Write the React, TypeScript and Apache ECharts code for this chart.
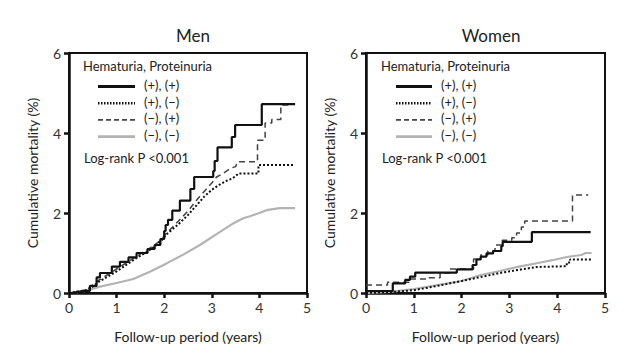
import React, { useEffect, useRef } from "react";
import * as echarts from "echarts";

// Data: [years, cumulative mortality %]
const menPosPos: number[][] = [
  [0, 0], [0.15, 0.03], [0.3, 0.05], [0.44, 0.18], [0.58, 0.39], [0.65, 0.5], [0.9, 0.66],
  [1.07, 0.78], [1.25, 0.89], [1.42, 1.0], [1.65, 1.1], [1.8, 1.2], [1.92, 1.35], [2.0, 1.55],
  [2.03, 1.7], [2.08, 1.83], [2.17, 2.06], [2.33, 2.31], [2.55, 2.6], [2.63, 2.9], [3.03, 3.05],
  [3.06, 3.3], [3.12, 3.64], [3.42, 3.9], [3.49, 4.2], [4.05, 4.72], [4.75, 4.72],
];
const menPosNeg: number[][] = [
  [0, 0], [0.2, 0.04], [0.4, 0.08], [0.5, 0.16], [0.6, 0.26], [0.8, 0.4], [1.0, 0.54], [1.2, 0.7],
  [1.4, 0.86], [1.6, 1.0], [1.8, 1.16], [1.95, 1.32], [2.05, 1.47], [2.15, 1.57], [2.3, 1.72],
  [2.5, 1.95], [2.7, 2.22], [2.85, 2.42], [3.0, 2.58], [3.15, 2.7], [3.3, 2.8], [3.42, 2.86],
  [3.5, 2.92], [3.56, 2.99], [3.98, 2.99], [3.98, 3.2], [4.74, 3.2],
];
const menNegPos: number[][] = [
  [0, 0], [0.2, 0.03], [0.35, 0.08], [0.45, 0.15], [0.6, 0.3], [0.8, 0.45], [1.0, 0.6], [1.2, 0.75],
  [1.4, 0.9], [1.6, 1.05], [1.8, 1.2], [1.95, 1.35], [2.05, 1.5], [2.15, 1.62], [2.3, 1.8],
  [2.5, 2.05], [2.7, 2.35], [2.85, 2.55], [3.0, 2.75], [3.1, 2.9], [3.25, 3.0], [3.4, 3.12],
  [3.5, 3.16], [3.54, 3.28], [3.96, 3.28], [3.96, 3.82], [4.12, 3.82], [4.12, 4.25],
  [4.26, 4.25], [4.26, 4.34], [4.45, 4.34], [4.45, 4.7], [4.62, 4.7],
];
const menNegNeg: number[][] = [
  [0, 0], [0.3, 0.04], [0.65, 0.16], [1.0, 0.25], [1.35, 0.35], [1.7, 0.53], [2.05, 0.74],
  [2.4, 0.96], [2.75, 1.2], [3.1, 1.47], [3.45, 1.74], [3.66, 1.87], [3.8, 1.92], [4.0, 2.0],
  [4.15, 2.07], [4.43, 2.12], [4.75, 2.12],
];

const womenPosPos: number[][] = [
  [0, 0.05], [0.56, 0.24], [0.82, 0.33], [0.92, 0.41], [1.03, 0.51], [1.9, 0.59], [2.23, 0.7],
  [2.31, 0.84], [2.4, 0.91], [2.52, 0.99], [2.66, 1.05], [2.83, 1.17], [2.86, 1.28], [3.47, 1.52],
  [4.7, 1.52],
];
const womenPosNeg: number[][] = [
  [0, 0], [0.5, 0.02], [1.0, 0.07], [1.5, 0.18], [2.0, 0.3], [2.4, 0.4], [2.8, 0.5], [3.2, 0.58],
  [3.57, 0.65], [4.2, 0.67], [4.2, 0.76], [4.27, 0.76], [4.27, 0.84], [4.72, 0.84],
];
const womenNegPos: number[][] = [
  [0, 0.2], [0.45, 0.27], [0.9, 0.35], [1.3, 0.38], [1.55, 0.5], [1.75, 0.6], [2.25, 0.85],
  [2.4, 0.95], [2.55, 1.05], [2.7, 1.2], [2.85, 1.32], [3.05, 1.38], [3.15, 1.5], [3.25, 1.65],
  [3.32, 1.8], [4.32, 2.45], [4.65, 2.45],
];
const womenNegNeg: number[][] = [
  [0, 0], [0.5, 0.03], [1.0, 0.1], [1.5, 0.2], [2.0, 0.3], [2.4, 0.45], [2.8, 0.55], [3.2, 0.66],
  [3.6, 0.75], [3.9, 0.82], [4.2, 0.9], [4.5, 0.95], [4.6, 1.0], [4.72, 1.0],
];

const panelTitles = ["Men", "Women"];
const legendTitle = "Hematuria, Proteinuria";
const legendLabels = ["(+), (+)", "(+), (\u2212)", "(\u2212), (+)", "(\u2212), (\u2212)"];
const pText = "Log-rank P <0.001";
const xName = "Follow-up period (years)";
const yName = "Cumulative mortality (%)";

const FONT = "Lato";
const styles = [
  { color: "#111", width: 2.2, type: "solid" as any },
  { color: "#111", width: 2, type: [2, 2] as any },
  { color: "#444", width: 1.5, type: [6, 4] as any },
  { color: "#b3b3b3", width: 2.2, type: "solid" as any },
];
// step mode per [panel][series]
const stepModes: any[][] = [
  ["end", false, false, false],
  ["end", false, "end", false],
];

export default function App() {
  const ref = useRef<HTMLDivElement>(null);
  useEffect(() => {
    if (!ref.current) return;
    const chart = echarts.init(ref.current, undefined, { renderer: "svg" });
    const grids = [
      { left: 69, top: 53, width: 238, height: 240 },
      { left: 366, top: 53, width: 239, height: 240 },
    ];
    const mkX = (i: number) => ({
      type: "value",
      gridIndex: i,
      min: 0,
      max: 5,
      interval: 1,
      name: xName,
      nameLocation: "middle",
      nameGap: 36,
      nameTextStyle: { fontFamily: FONT, fontSize: 14, color: "#222" },
      axisLine: { show: true, onZero: false, lineStyle: { color: "#111", width: 2.5 } },
      axisTick: { show: true, length: 5, lineStyle: { color: "#111", width: 2.5 } },
      axisLabel: { fontFamily: FONT, fontSize: 14, color: "#333", margin: 7 },
      splitLine: { show: false },
    });
    const mkY = (i: number) => ({
      type: "value",
      gridIndex: i,
      min: 0,
      max: 6,
      interval: 2,
      name: yName,
      nameLocation: "middle",
      nameGap: 30,
      nameTextStyle: { fontFamily: FONT, fontSize: 14, color: "#222" },
      axisLine: { show: true, onZero: false, lineStyle: { color: "#111", width: 2.5 } },
      axisTick: { show: true, length: 5, lineStyle: { color: "#111", width: 2.5 } },
      axisLabel: { fontFamily: FONT, fontSize: 14, color: "#333", margin: 8 },
      splitLine: { show: false },
    });
    const data = [
      [menPosPos, menPosNeg, menNegPos, menNegNeg],
      [womenPosPos, womenPosNeg, womenNegPos, womenNegNeg],
    ];
    const series: any[] = [];
    const drawOrder = [3, 2, 1, 0];
    data.forEach((set, g) => {
      drawOrder.forEach((k) => {
        series.push({
          type: "line",
          name: legendLabels[k],
          xAxisIndex: g,
          yAxisIndex: g,
          step: stepModes[g][k],
          showSymbol: false,
          symbol: "none",
          data: set[k],
          lineStyle: { color: styles[k].color, width: styles[k].width, type: styles[k].type },
          z: 2 + (3 - k),
        });
      });
    });

    const graphic: any[] = [];
    const legendX = [
      { title: 83, l1: 98, l2: 135, t: 144 },
      { title: 381, l1: 396, l2: 432, t: 441 },
    ];
    legendX.forEach((lx) => {
      graphic.push({
        type: "text",
        left: lx.title,
        top: 59,
        style: { text: legendTitle, fontFamily: FONT, fontSize: 13, fill: "#222" },
      });
      legendLabels.forEach((lab, k) => {
        const y = 86.5 + k * 16.7;
        graphic.push({
          type: "line",
          shape: { x1: lx.l1, y1: y, x2: lx.l2, y2: y },
          style: {
            stroke: styles[k].color,
            lineWidth: k === 2 ? 1.6 : styles[k].width + 0.6,
            lineDash: Array.isArray(styles[k].type) ? (k === 2 ? [5, 3] : [1.5, 1.5]) : null,
          },
        });
        graphic.push({
          type: "text",
          left: lx.t,
          top: y - 8,
          style: { text: lab, fontFamily: FONT, fontSize: 13, fill: "#222" },
        });
      });
      graphic.push({
        type: "text",
        left: lx.title + 1,
        top: 151,
        style: { text: pText, fontFamily: FONT, fontSize: 13, fill: "#222" },
      });
    });

    chart.setOption({
      animation: false,
      backgroundColor: "#fff",
      title: [
        { text: panelTitles[0], left: 188, top: 22, textAlign: "center",
          textStyle: { fontFamily: FONT, fontSize: 17, fontWeight: "normal", color: "#222" } },
        { text: panelTitles[1], left: 486, top: 22, textAlign: "center",
          textStyle: { fontFamily: FONT, fontSize: 17, fontWeight: "normal", color: "#222" } },
      ],
      grid: grids.map((g) => ({ ...g, show: true, borderColor: "#111", borderWidth: 2, backgroundColor: "transparent" })),
      xAxis: [mkX(0), mkX(1)],
      yAxis: [mkY(0), mkY(1)],
      series,
      graphic,
    } as any);
    return () => chart.dispose();
  }, []);
  return (
    <div
      ref={ref}
      style={{ position: "fixed", left: 0, top: 0, width: 640, height: 358, background: "#fff" }}
    />
  );
}
